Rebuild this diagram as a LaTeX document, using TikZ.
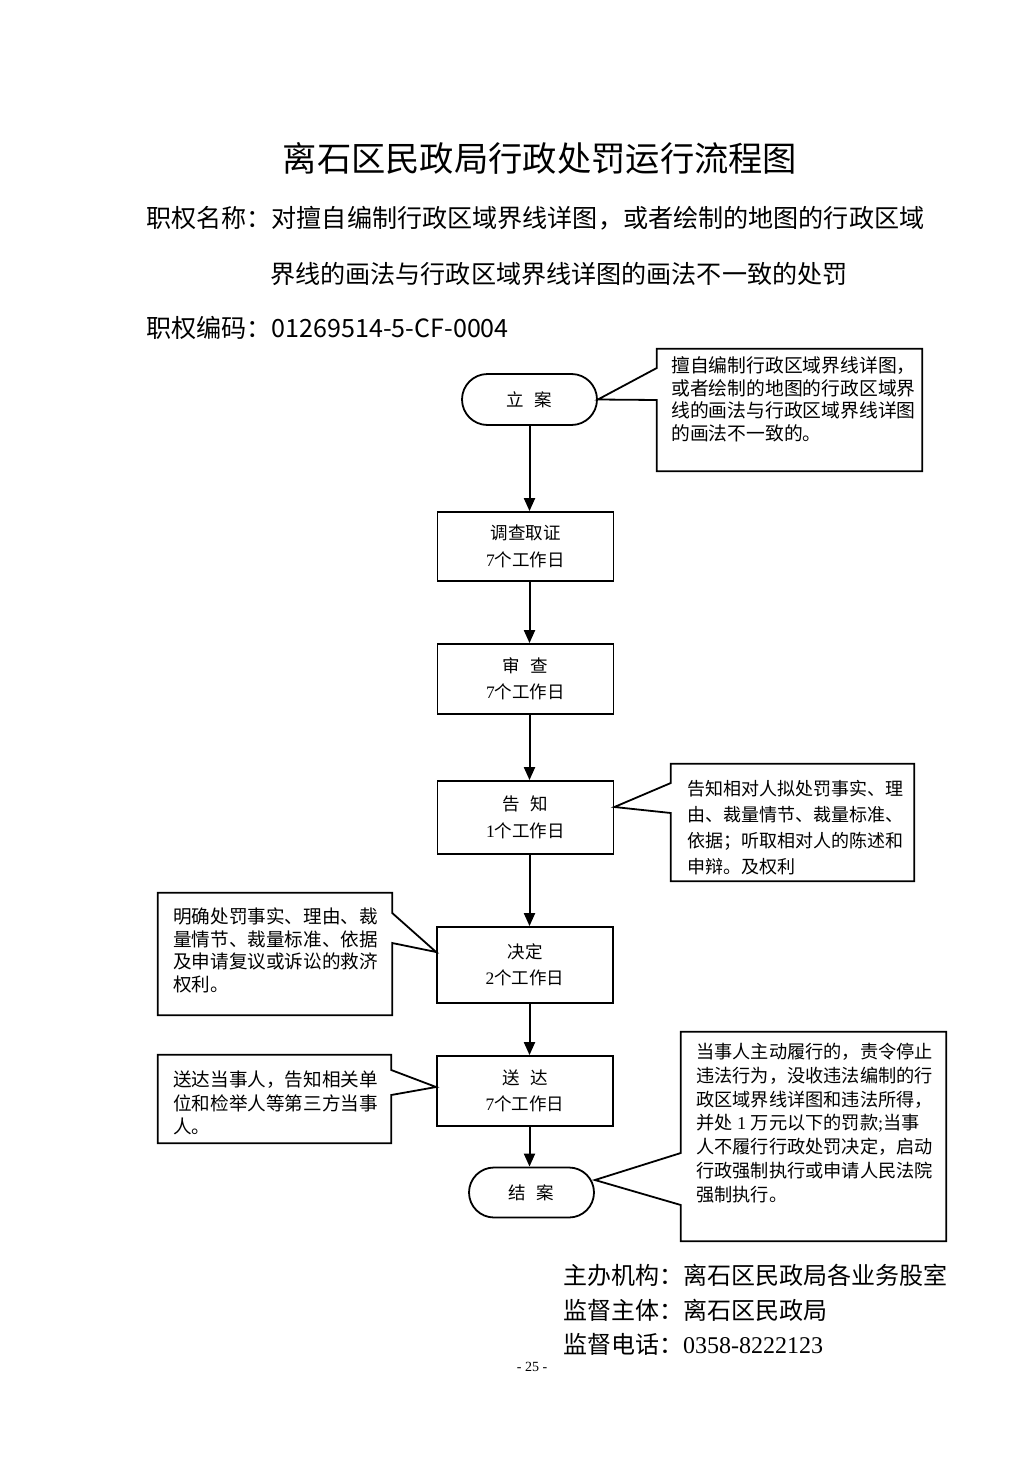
\documentclass[tikz,border=0pt]{standalone}
\usepackage{fontspec}
\setmainfont{Liberation Serif}
\newfontfamily\cjk{Noto Sans CJK SC}
\usetikzlibrary{arrows.meta,shapes.misc}
\begin{document}
\begin{tikzpicture}[x=1pt,y=-1pt,
  box/.style={draw,line width=1.8pt,minimum width=176pt,inner sep=0pt,align=center,font=\fontsize{17.5}{26.5}\selectfont\cjk},
  term/.style={draw,line width=1.8pt,rounded rectangle,inner sep=0pt,font=\fontsize{17.5}{26}\selectfont\cjk},
  arr/.style={line width=2pt,-{Triangle[length=13pt,width=11pt]}},
  callout/.style={line width=1.8pt},
  cframe/.style={inner sep=0pt,draw=none},
  ctext/.style={anchor=north west,align=left,inner sep=0pt},
  head/.style={anchor=west,inner sep=0pt,font=\fontsize{25.1}{30}\selectfont\cjk},
  foot/.style={anchor=west,inner sep=0pt,font=\fontsize{24}{28}\selectfont\cjk},
]
\useasboundingbox (0,0) rectangle (1033,1461);
\fill[white] (0,0) rectangle (1033,1461);

% headings
\node[inner sep=0pt,font=\fontsize{34.3}{40}\selectfont\cjk] (title) at (540,158) {离石区民政局行政处罚运行流程图};
\node[head] (h1) at (146,218) {职权名称：对擅自编制行政区域界线详图，或者绘制的地图的行政区域};
\node[head] (h2) at (270,274) {界线的画法与行政区域界线详图的画法不一致的处罚};
\node[head] (h3) at (146,328) {职权编码：01269514-5-CF-0004};

% flow nodes
\node[term,minimum width=135pt,minimum height=51pt] (lian) at (529.5,399.5) {立\hspace{11pt}案};
\node[box,minimum height=69pt] (dc) at (525.5,546.5) {调查取证\\{\rmfamily 7}个工作日};
\node[box,minimum height=70pt] (sc) at (525.5,679) {审\hspace{11pt}查\\{\rmfamily 7}个工作日};
\node[box,minimum height=73pt] (gz) at (525.5,817.5) {告\hspace{11pt}知\\{\rmfamily 1}个工作日};
\node[box,minimum height=76pt] (jd) at (525,965) {决定\\{\rmfamily 2}个工作日};
\node[box,minimum height=70pt] (sd) at (525,1091) {送\hspace{11pt}达\\{\rmfamily 7}个工作日};
\node[term,minimum width=125pt,minimum height=50pt] (ja) at (531.5,1192.5) {结\hspace{11pt}案};

% arrows
\draw[arr] (lian.south) -- (lian.south |- dc.north);
\draw[arr] (dc.south -| lian) -- (sc.north -| lian);
\draw[arr] (sc.south -| lian) -- (gz.north -| lian);
\draw[arr] (gz.south -| lian) -- (jd.north -| lian);
\draw[arr] (jd.south -| lian) -- (sd.north -| lian);
\draw[arr] (sd.south -| lian) -- (ja.north -| lian);

% callout frames
\node[cframe,minimum width=265pt,minimum height=122pt] (c1) at (789.5,410) {};
\node[cframe,minimum width=243pt,minimum height=117pt] (c2) at (792.5,822.5) {};
\node[cframe,minimum width=234pt,minimum height=122pt] (c3) at (275,954) {};
\node[cframe,minimum width=233pt,minimum height=88pt] (c4) at (274.5,1099) {};
\node[cframe,minimum width=265pt,minimum height=209pt] (c5) at (813.5,1136.5) {};

\draw[callout] (c1.north west) -- (c1.north east) -- (c1.south east) -- (c1.south west)
  -- (c1.west |- 0,400) -- (lian.east) -- (c1.west |- 0,368) -- cycle;
\draw[callout] (c2.north west) -- (c2.north east) -- (c2.south east) -- (c2.south west)
  -- (c2.west |- 0,813) -- ([yshift=10.5pt]gz.east) -- (c2.west |- 0,783) -- cycle;
\draw[callout] (c3.north west) -- (c3.north east) -- (c3.east |- 0,913)
  -- ([yshift=13pt]jd.west) -- (c3.east |- 0,943) -- (c3.south east) -- (c3.south west) -- cycle;
\draw[callout] (c4.north west) -- (c4.north east) -- (c4.east |- 0,1070)
  -- ([yshift=4pt]sd.west) -- (c4.east |- 0,1095) -- (c4.south east) -- (c4.south west) -- cycle;
\draw[callout] (c5.north west) -- (c5.north east) -- (c5.south east) -- (c5.south west)
  -- (c5.west |- 0,1205) -- ([yshift=12.5pt]ja.east) -- (c5.west |- 0,1153) -- cycle;

% callout texts
\node[ctext,font=\fontsize{18.8}{22.5}\selectfont\cjk] (t1) at (671,356.6) {擅自编制行政区域界线详图，\\或者绘制的地图的行政区域界\\线的画法与行政区域界线详图\\的画法不一致的。};
\node[ctext,font=\fontsize{18}{26}\selectfont\cjk] (t2) at (687,780) {告知相对人拟处罚事实、理\\由、裁量情节、裁量标准、\\依据；听取相对人的陈述和\\申辩。及权利};
\node[ctext,font=\fontsize{18.6}{22.6}\selectfont\cjk] (t3) at (173,907.7) {明确处罚事实、理由、裁\\量情节、裁量标准、依据\\及申请复议或诉讼的救济\\权利。};
\node[ctext,font=\fontsize{18.6}{23.5}\selectfont\cjk] (t4) at (173,1070.7) {送达当事人，告知相关单\\位和检举人等第三方当事\\人。};
\node[ctext,font=\fontsize{18.2}{23.8}\selectfont\cjk] (t5) at (696,1043) {当事人主动履行的，责令停止\\违法行为，没收违法编制的行\\政区域界线详图和违法所得，\\并处{\rmfamily\ 1\ }万元以下的罚款{\rmfamily ;}当事\\人不履行行政处罚决定，启动\\行政强制执行或申请人民法院\\强制执行。};

% footer
\node[foot] (f1) at (563,1275) {主办机构：离石区民政局各业务股室};
\node[foot] (f2) at (563,1310) {监督主体：离石区民政局};
\node[foot] (f3) at (563,1344) {监督电话：{\rmfamily 0358-8222123}};
\node[inner sep=0pt,font=\fontsize{14}{16}\selectfont] (pg) at (532,1367) {- 25 -};
\end{tikzpicture}
\end{document}
